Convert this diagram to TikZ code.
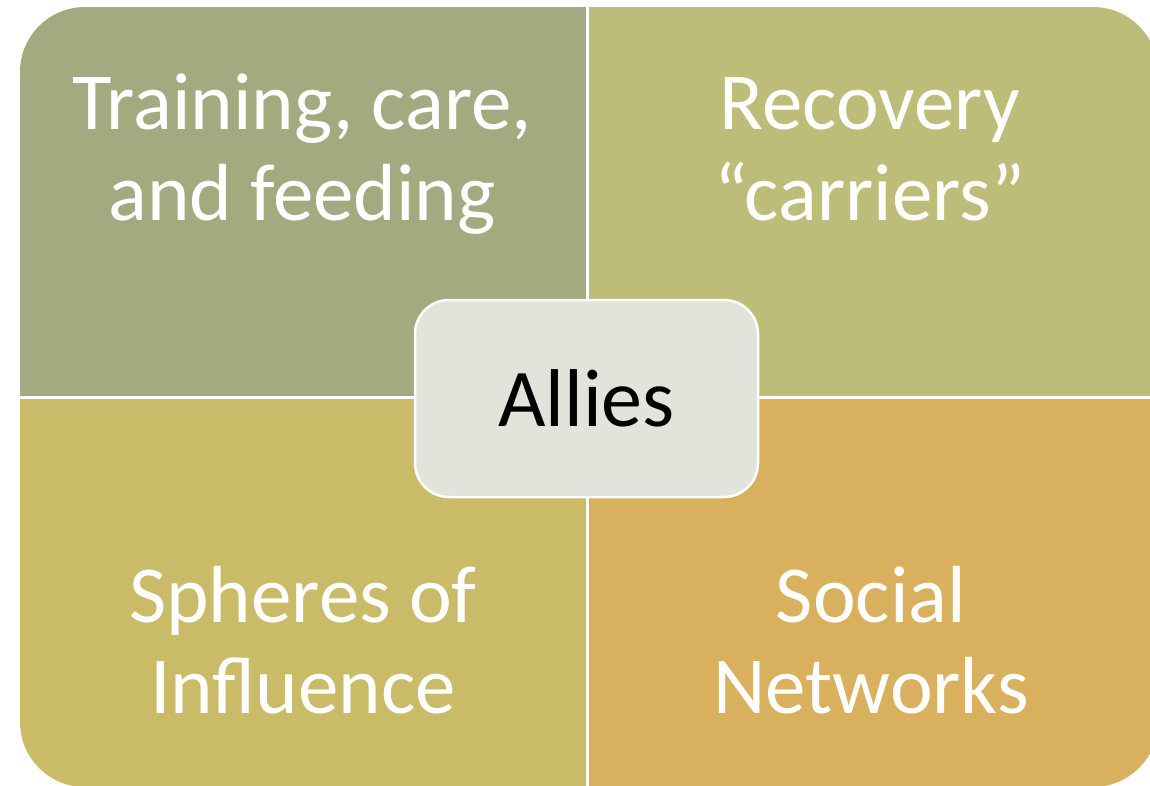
\documentclass[tikz,border=0pt]{standalone}
\usepackage{fontspec}
\setmainfont{Carlito}
\definecolor{qTL}{RGB}{164,170,128}
\definecolor{qTR}{RGB}{189,188,121}
\definecolor{qBL}{RGB}{201,187,104}
\definecolor{qBR}{RGB}{217,177,94}
\definecolor{hub}{RGB}{226,227,218}
\tikzset{
  qtext/.style={text=white, align=center, inner sep=0pt, anchor=base,
    font=\fontsize{81}{90.5}\selectfont},
  hubbox/.style={draw=white, line width=2.5pt, fill=hub, rounded corners=34pt,
    minimum width=343pt, minimum height=197pt, inner sep=0pt,
    font=\fontsize{82}{90}\selectfont, text=black},
  divider/.style={draw=white, line width=3pt}
}
\begin{document}
\begin{tikzpicture}[x=1pt,y=-1pt]
  \clip (0,0) rectangle (1150,785);
  \fill[white] (0,0) rectangle (1150,785);
  \begin{scope}
    \clip[rounded corners=65pt] (20,7) rectangle (1158,787);
    \fill[qTL] (20,7) rectangle (587,397);
    \fill[qTR] (587,7) rectangle (1158,397);
    \fill[qBL] (20,397) rectangle (587,787);
    \fill[qBR] (587,397) rectangle (1158,787);
  \end{scope}
  \coordinate (vtop) at (587,0);
  \coordinate (vbot) at (587,790);
  \coordinate (hl) at (0,397);
  \coordinate (hr) at (1160,397);
  \draw[divider] (vtop) -- (vbot);
  \draw[divider] (hl) -- (hr);
  \node[qtext] (tl) at (302,220) {Training, care,\\and feeding};
  \node[qtext] (tr) at (870,220) {Recovery\\“carriers”};
  \node[qtext] (bl) at (303,713) {Spheres of\\Influence};
  \node[qtext] (br) at (871,713) {Social\\Networks};
  \node[hubbox] (hub) at (586.5,398.5) {Allies};
\end{tikzpicture}
\end{document}
